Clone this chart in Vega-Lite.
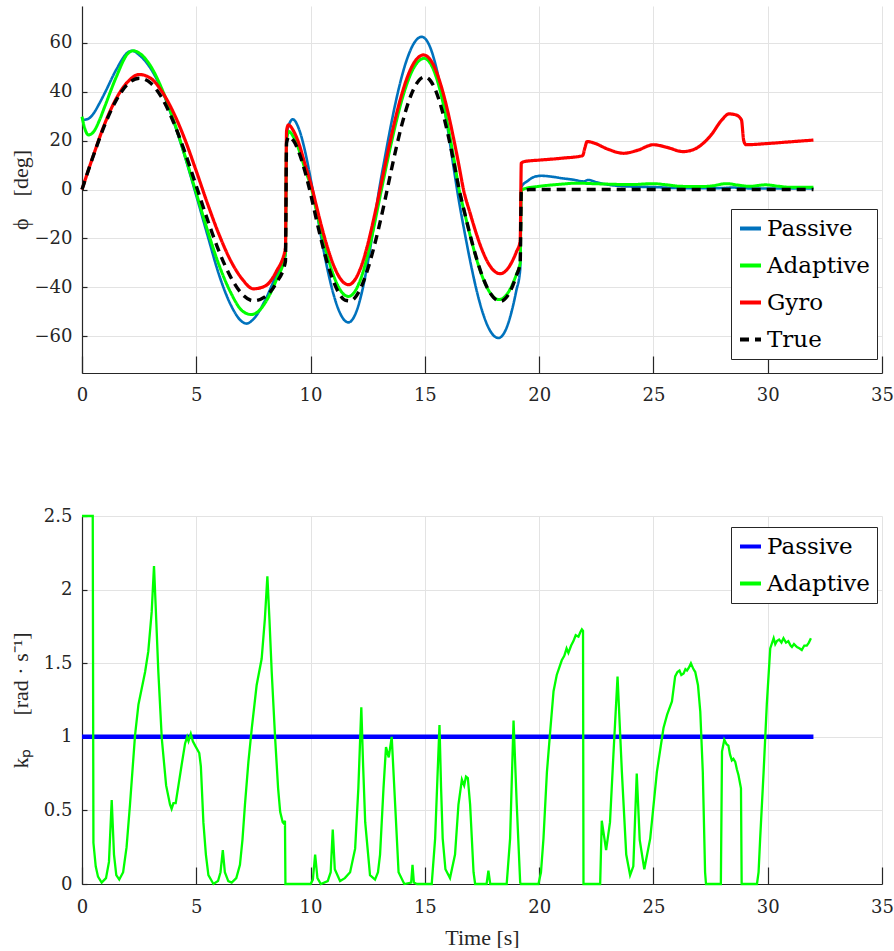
{
  "$schema": "https://vega.github.io/schema/vega-lite/v6.json",
  "padding": {"left": 9, "top": 6, "right": 5, "bottom": 0},
  "background": "white",
  "config": {
    "view": {"stroke": null},
    "axis": {
      "labelFont": "DejaVu Serif", "labelFontSize": 18, "labelColor": "#262626",
      "titleFont": "Liberation Serif", "titleFontSize": 22, "titleFontWeight": "normal", "titleColor": "#262626",
      "domainColor": "#262626", "domainWidth": 1.2, "tickColor": "#262626", "tickWidth": 1.2,
      "gridColor": "#e3e3e3", "gridWidth": 1, "grid": true, "labelOverlap": false, "labelFlush": false
    },
    "legend": {
      "labelFont": "DejaVu Serif", "labelFontSize": 23, "labelColor": "#000000",
      "symbolType": "stroke", "symbolSize": 441, "symbolStrokeWidth": 4,
      "fillColor": "white", "strokeColor": "#262626", "padding": 7, "rowPadding": 12, "labelOffset": 4
    }
  },
  "datasets": {
    "phi": [
      {"t":0,"series":"Passive","phi":28.4},{"t":0.25,"series":"Passive","phi":28.8},{"t":0.5,"series":"Passive","phi":31},{"t":0.75,"series":"Passive","phi":35},{"t":1,"series":"Passive","phi":39.5},{"t":1.5,"series":"Passive","phi":49},{"t":2,"series":"Passive","phi":56},{"t":2.2,"series":"Passive","phi":56.7},{"t":2.5,"series":"Passive","phi":55},{"t":3,"series":"Passive","phi":49.5},{"t":3.5,"series":"Passive","phi":40.5},{"t":4,"series":"Passive","phi":28},{"t":4.5,"series":"Passive","phi":13.5},{"t":5,"series":"Passive","phi":-2.5},{"t":5.5,"series":"Passive","phi":-19},{"t":6,"series":"Passive","phi":-35},{"t":6.5,"series":"Passive","phi":-47},{"t":7,"series":"Passive","phi":-54},{"t":7.2,"series":"Passive","phi":-54.8},{"t":7.5,"series":"Passive","phi":-53},{"t":8,"series":"Passive","phi":-45.5},{"t":8.5,"series":"Passive","phi":-35},{"t":8.9,"series":"Passive","phi":-27},
      {"t":8.95,"series":"Passive","phi":22},{"t":9.1,"series":"Passive","phi":27.5},{"t":9.22,"series":"Passive","phi":28.7},{"t":9.5,"series":"Passive","phi":24.5},{"t":9.75,"series":"Passive","phi":16},{"t":10,"series":"Passive","phi":4.5},{"t":10.25,"series":"Passive","phi":-8.1},{"t":10.5,"series":"Passive","phi":-21.3},{"t":10.75,"series":"Passive","phi":-33.1},{"t":11,"series":"Passive","phi":-42.7},{"t":11.25,"series":"Passive","phi":-49.7},{"t":11.5,"series":"Passive","phi":-53.6},{"t":11.66,"series":"Passive","phi":-54.3},{"t":12,"series":"Passive","phi":-50},{"t":12.25,"series":"Passive","phi":-41.8},{"t":12.5,"series":"Passive","phi":-30.1},{"t":12.75,"series":"Passive","phi":-15.6},{"t":13,"series":"Passive","phi":0},{"t":13.25,"series":"Passive","phi":13},{"t":13.5,"series":"Passive","phi":25.5},{"t":13.75,"series":"Passive","phi":36.8},{"t":14,"series":"Passive","phi":46.5},{"t":14.25,"series":"Passive","phi":54.1},{"t":14.5,"series":"Passive","phi":59.4},{"t":14.75,"series":"Passive","phi":62.1},{"t":14.87,"series":"Passive","phi":62.4},{"t":15,"series":"Passive","phi":61.8},{"t":15.25,"series":"Passive","phi":57.7},{"t":15.5,"series":"Passive","phi":49.8},{"t":15.75,"series":"Passive","phi":38.6},{"t":16,"series":"Passive","phi":25},{"t":16.25,"series":"Passive","phi":9.5},{"t":16.5,"series":"Passive","phi":-5.2},{"t":16.75,"series":"Passive","phi":-18},{"t":17,"series":"Passive","phi":-30},{"t":17.25,"series":"Passive","phi":-40.7},{"t":17.5,"series":"Passive","phi":-49.4},{"t":17.75,"series":"Passive","phi":-55.8},{"t":18,"series":"Passive","phi":-59.6},{"t":18.22,"series":"Passive","phi":-60.7},{"t":18.5,"series":"Passive","phi":-58.1},{"t":18.75,"series":"Passive","phi":-51.5},{"t":19,"series":"Passive","phi":-41.4},{"t":19.17,"series":"Passive","phi":-32.8},
      {"t":19.22,"series":"Passive","phi":1},{"t":19.5,"series":"Passive","phi":3.5},{"t":19.8,"series":"Passive","phi":5.2},{"t":20.1,"series":"Passive","phi":5.6},{"t":20.5,"series":"Passive","phi":5.3},{"t":21,"series":"Passive","phi":4.6},{"t":21.5,"series":"Passive","phi":4},{"t":21.95,"series":"Passive","phi":3.3},{"t":22.15,"series":"Passive","phi":3.9},{"t":22.5,"series":"Passive","phi":3},{"t":23,"series":"Passive","phi":2},{"t":24,"series":"Passive","phi":1.2},{"t":25,"series":"Passive","phi":1},{"t":26,"series":"Passive","phi":0.6},{"t":27,"series":"Passive","phi":0.5},{"t":28,"series":"Passive","phi":0.6},{"t":28.5,"series":"Passive","phi":0.8},{"t":29,"series":"Passive","phi":0.5},{"t":30,"series":"Passive","phi":0.4},{"t":31,"series":"Passive","phi":0.4},{"t":32,"series":"Passive","phi":0.4},

      {"t":0,"series":"Adaptive","phi":29.8},{"t":0.12,"series":"Adaptive","phi":25},{"t":0.28,"series":"Adaptive","phi":22.3},{"t":0.5,"series":"Adaptive","phi":23.5},{"t":0.75,"series":"Adaptive","phi":28},{"t":1,"series":"Adaptive","phi":34},{"t":1.5,"series":"Adaptive","phi":46},{"t":2,"series":"Adaptive","phi":55.5},{"t":2.25,"series":"Adaptive","phi":56.7},{"t":2.5,"series":"Adaptive","phi":55.8},{"t":3,"series":"Adaptive","phi":50.5},{"t":3.5,"series":"Adaptive","phi":41},{"t":4,"series":"Adaptive","phi":28.5},{"t":4.5,"series":"Adaptive","phi":14},{"t":5,"series":"Adaptive","phi":-1.5},{"t":5.5,"series":"Adaptive","phi":-17},{"t":6,"series":"Adaptive","phi":-31},{"t":6.5,"series":"Adaptive","phi":-42},{"t":7,"series":"Adaptive","phi":-49.5},{"t":7.4,"series":"Adaptive","phi":-51.1},{"t":7.75,"series":"Adaptive","phi":-49.5},{"t":8,"series":"Adaptive","phi":-46.5},{"t":8.5,"series":"Adaptive","phi":-37},{"t":8.9,"series":"Adaptive","phi":-26},
      {"t":8.95,"series":"Adaptive","phi":20},{"t":9.05,"series":"Adaptive","phi":23.7},{"t":9.25,"series":"Adaptive","phi":21.5},{"t":9.5,"series":"Adaptive","phi":16},{"t":9.75,"series":"Adaptive","phi":8.5},{"t":10.05,"series":"Adaptive","phi":0},{"t":10.25,"series":"Adaptive","phi":-8.5},{"t":10.5,"series":"Adaptive","phi":-18.5},{"t":10.75,"series":"Adaptive","phi":-27.6},{"t":11,"series":"Adaptive","phi":-35},{"t":11.25,"series":"Adaptive","phi":-40.3},{"t":11.5,"series":"Adaptive","phi":-43.2},{"t":11.66,"series":"Adaptive","phi":-43.7},{"t":12,"series":"Adaptive","phi":-40.7},{"t":12.25,"series":"Adaptive","phi":-35},{"t":12.5,"series":"Adaptive","phi":-26.6},{"t":12.75,"series":"Adaptive","phi":-16.2},{"t":13,"series":"Adaptive","phi":-4.7},{"t":13.25,"series":"Adaptive","phi":6.7},{"t":13.5,"series":"Adaptive","phi":17.7},{"t":13.75,"series":"Adaptive","phi":27.8},{"t":14,"series":"Adaptive","phi":36.8},{"t":14.25,"series":"Adaptive","phi":44.1},{"t":14.5,"series":"Adaptive","phi":49.5},{"t":14.75,"series":"Adaptive","phi":52.7},{"t":14.97,"series":"Adaptive","phi":53.6},{"t":15.25,"series":"Adaptive","phi":51.4},{"t":15.5,"series":"Adaptive","phi":45.9},{"t":15.75,"series":"Adaptive","phi":37.3},{"t":16,"series":"Adaptive","phi":26.3},{"t":16.25,"series":"Adaptive","phi":13.6},{"t":16.5,"series":"Adaptive","phi":0},{"t":16.75,"series":"Adaptive","phi":-10},{"t":17,"series":"Adaptive","phi":-19.5},{"t":17.25,"series":"Adaptive","phi":-28.1},{"t":17.5,"series":"Adaptive","phi":-35.2},{"t":17.75,"series":"Adaptive","phi":-40.6},{"t":18,"series":"Adaptive","phi":-43.9},{"t":18.25,"series":"Adaptive","phi":-45},{"t":18.5,"series":"Adaptive","phi":-43.8},{"t":18.75,"series":"Adaptive","phi":-40.4},{"t":19,"series":"Adaptive","phi":-34.8},{"t":19.17,"series":"Adaptive","phi":-30},
      {"t":19.22,"series":"Adaptive","phi":-0.5},{"t":19.35,"series":"Adaptive","phi":0.3},{"t":20,"series":"Adaptive","phi":1.3},{"t":21,"series":"Adaptive","phi":2.2},{"t":21.6,"series":"Adaptive","phi":2.6},{"t":22.3,"series":"Adaptive","phi":2.4},{"t":23,"series":"Adaptive","phi":2.2},{"t":24,"series":"Adaptive","phi":2},{"t":25,"series":"Adaptive","phi":2.4},{"t":25.5,"series":"Adaptive","phi":2},{"t":26.2,"series":"Adaptive","phi":1.3},{"t":27,"series":"Adaptive","phi":1.2},{"t":27.5,"series":"Adaptive","phi":1.4},{"t":28.2,"series":"Adaptive","phi":2.4},{"t":28.7,"series":"Adaptive","phi":1.8},{"t":29.2,"series":"Adaptive","phi":1.3},{"t":29.9,"series":"Adaptive","phi":1.9},{"t":30.5,"series":"Adaptive","phi":1.3},{"t":31,"series":"Adaptive","phi":0.9},{"t":32,"series":"Adaptive","phi":0.9},

      {"t":0,"series":"Gyro","phi":0},{"t":0.5,"series":"Gyro","phi":14},{"t":1,"series":"Gyro","phi":27},{"t":1.5,"series":"Gyro","phi":37.2},{"t":2,"series":"Gyro","phi":44},{"t":2.5,"series":"Gyro","phi":47},{"t":3,"series":"Gyro","phi":45.5},{"t":3.5,"series":"Gyro","phi":40},{"t":4,"series":"Gyro","phi":31.5},{"t":4.5,"series":"Gyro","phi":20.5},{"t":5,"series":"Gyro","phi":7.5},{"t":5.5,"series":"Gyro","phi":-6},{"t":6,"series":"Gyro","phi":-18.5},{"t":6.5,"series":"Gyro","phi":-29},{"t":7,"series":"Gyro","phi":-36.5},{"t":7.5,"series":"Gyro","phi":-40.6},{"t":8,"series":"Gyro","phi":-39.5},{"t":8.5,"series":"Gyro","phi":-33.5},{"t":8.9,"series":"Gyro","phi":-24},
      {"t":8.95,"series":"Gyro","phi":24},{"t":9.03,"series":"Gyro","phi":26.4},{"t":9.25,"series":"Gyro","phi":24},{"t":9.5,"series":"Gyro","phi":18.5},{"t":9.75,"series":"Gyro","phi":10.5},{"t":10.08,"series":"Gyro","phi":0},{"t":10.25,"series":"Gyro","phi":-6.5},{"t":10.5,"series":"Gyro","phi":-15.8},{"t":10.75,"series":"Gyro","phi":-24},{"t":11,"series":"Gyro","phi":-30.8},{"t":11.25,"series":"Gyro","phi":-35.7},{"t":11.5,"series":"Gyro","phi":-38.4},{"t":11.66,"series":"Gyro","phi":-38.9},{"t":12,"series":"Gyro","phi":-36},{"t":12.25,"series":"Gyro","phi":-30.5},{"t":12.5,"series":"Gyro","phi":-22.5},{"t":12.75,"series":"Gyro","phi":-12.6},{"t":13,"series":"Gyro","phi":-1.8},{"t":13.25,"series":"Gyro","phi":9.5},{"t":13.5,"series":"Gyro","phi":20.4},{"t":13.75,"series":"Gyro","phi":30.5},{"t":14,"series":"Gyro","phi":39.2},{"t":14.25,"series":"Gyro","phi":46.3},{"t":14.5,"series":"Gyro","phi":51.4},{"t":14.75,"series":"Gyro","phi":54.3},{"t":14.94,"series":"Gyro","phi":55},{"t":15.25,"series":"Gyro","phi":52.9},{"t":15.5,"series":"Gyro","phi":48.2},{"t":15.75,"series":"Gyro","phi":41.1},{"t":16,"series":"Gyro","phi":32},{"t":16.25,"series":"Gyro","phi":21.2},{"t":16.5,"series":"Gyro","phi":9.4},{"t":16.69,"series":"Gyro","phi":0},{"t":17,"series":"Gyro","phi":-10.3},{"t":17.25,"series":"Gyro","phi":-18},{"t":17.5,"series":"Gyro","phi":-24.6},{"t":17.75,"series":"Gyro","phi":-29.7},{"t":18,"series":"Gyro","phi":-33},{"t":18.29,"series":"Gyro","phi":-34.4},{"t":18.5,"series":"Gyro","phi":-33.6},{"t":18.75,"series":"Gyro","phi":-30.6},{"t":19,"series":"Gyro","phi":-25.6},{"t":19.17,"series":"Gyro","phi":-21.2},
      {"t":19.22,"series":"Gyro","phi":10.8},{"t":19.4,"series":"Gyro","phi":11.5},{"t":20,"series":"Gyro","phi":12},{"t":21,"series":"Gyro","phi":12.8},{"t":21.9,"series":"Gyro","phi":13.8},{"t":22,"series":"Gyro","phi":17},{"t":22.1,"series":"Gyro","phi":19.6},{"t":22.4,"series":"Gyro","phi":19},{"t":23,"series":"Gyro","phi":16.5},{"t":23.7,"series":"Gyro","phi":14.8},{"t":24.3,"series":"Gyro","phi":16},{"t":25,"series":"Gyro","phi":18.3},{"t":25.6,"series":"Gyro","phi":17.2},{"t":26.3,"series":"Gyro","phi":15.5},{"t":26.8,"series":"Gyro","phi":16.5},{"t":27.5,"series":"Gyro","phi":22},{"t":28,"series":"Gyro","phi":28.5},{"t":28.3,"series":"Gyro","phi":30.9},{"t":28.6,"series":"Gyro","phi":30.5},{"t":28.85,"series":"Gyro","phi":28.5},{"t":28.95,"series":"Gyro","phi":20},{"t":29.05,"series":"Gyro","phi":18.3},{"t":30,"series":"Gyro","phi":18.8},{"t":31,"series":"Gyro","phi":19.5},{"t":32,"series":"Gyro","phi":20.2},

      {"t":0,"series":"True","phi":0},{"t":0.5,"series":"True","phi":13.9},{"t":1,"series":"True","phi":26.5},{"t":1.5,"series":"True","phi":36.5},{"t":2,"series":"True","phi":43.1},{"t":2.5,"series":"True","phi":45.5},{"t":3,"series":"True","phi":43.5},{"t":3.5,"series":"True","phi":37.4},{"t":4,"series":"True","phi":27.6},{"t":4.5,"series":"True","phi":15.3},{"t":5,"series":"True","phi":1.4},{"t":5.5,"series":"True","phi":-12.6},{"t":6,"series":"True","phi":-25.4},{"t":6.5,"series":"True","phi":-35.7},{"t":7,"series":"True","phi":-42.7},{"t":7.5,"series":"True","phi":-45.5},{"t":8,"series":"True","phi":-43.9},{"t":8.5,"series":"True","phi":-38.2},{"t":8.9,"series":"True","phi":-29.5},
      {"t":8.95,"series":"True","phi":19},{"t":9.05,"series":"True","phi":21.6},{"t":9.25,"series":"True","phi":20},{"t":9.5,"series":"True","phi":15},{"t":9.75,"series":"True","phi":7.5},{"t":10,"series":"True","phi":-1.7},{"t":10.25,"series":"True","phi":-12.1},{"t":10.5,"series":"True","phi":-21.9},{"t":10.75,"series":"True","phi":-30.5},{"t":11,"series":"True","phi":-37.5},{"t":11.25,"series":"True","phi":-42.5},{"t":11.5,"series":"True","phi":-45.2},{"t":11.75,"series":"True","phi":-45.5},{"t":12,"series":"True","phi":-43.5},{"t":12.25,"series":"True","phi":-39.1},{"t":12.5,"series":"True","phi":-32.6},{"t":12.75,"series":"True","phi":-24.4},{"t":13,"series":"True","phi":-15},{"t":13.25,"series":"True","phi":-4.6},{"t":13.5,"series":"True","phi":6.5},{"t":13.75,"series":"True","phi":17.1},{"t":14,"series":"True","phi":26.7},{"t":14.25,"series":"True","phi":34.8},{"t":14.5,"series":"True","phi":40.9},{"t":14.75,"series":"True","phi":44.7},{"t":15,"series":"True","phi":46},{"t":15.25,"series":"True","phi":44.4},{"t":15.5,"series":"True","phi":39.8},{"t":15.75,"series":"True","phi":32.5},{"t":16,"series":"True","phi":23},{"t":16.25,"series":"True","phi":11.9},{"t":16.5,"series":"True","phi":0},{"t":16.75,"series":"True","phi":-9.9},{"t":17,"series":"True","phi":-19.3},{"t":17.25,"series":"True","phi":-27.8},{"t":17.5,"series":"True","phi":-35},{"t":17.75,"series":"True","phi":-40.5},{"t":18,"series":"True","phi":-44.1},{"t":18.3,"series":"True","phi":-45.7},{"t":18.5,"series":"True","phi":-44.8},{"t":18.75,"series":"True","phi":-41.3},{"t":19,"series":"True","phi":-35.3},{"t":19.17,"series":"True","phi":-30},
      {"t":19.22,"series":"True","phi":-1},{"t":19.4,"series":"True","phi":-0.3},{"t":19.6,"series":"True","phi":0},{"t":32,"series":"True","phi":0}
    ],
    "kp": [
      {"t":0,"gain":"Passive","kp":1},{"t":32,"gain":"Passive","kp":1},
      {"t":0,"gain":"Adaptive","kp":2.5},{"t":0.47,"gain":"Adaptive","kp":2.5},{"t":0.5,"gain":"Adaptive","kp":0.28},{"t":0.6,"gain":"Adaptive","kp":0.12},{"t":0.7,"gain":"Adaptive","kp":0.05},{"t":0.86,"gain":"Adaptive","kp":0.01},{"t":1.05,"gain":"Adaptive","kp":0.04},{"t":1.18,"gain":"Adaptive","kp":0.15},{"t":1.3,"gain":"Adaptive","kp":0.57},{"t":1.4,"gain":"Adaptive","kp":0.2},{"t":1.5,"gain":"Adaptive","kp":0.06},{"t":1.63,"gain":"Adaptive","kp":0.03},{"t":1.8,"gain":"Adaptive","kp":0.08},{"t":1.95,"gain":"Adaptive","kp":0.25},{"t":2.1,"gain":"Adaptive","kp":0.54},{"t":2.32,"gain":"Adaptive","kp":1.01},{"t":2.47,"gain":"Adaptive","kp":1.22},{"t":2.76,"gain":"Adaptive","kp":1.44},{"t":2.9,"gain":"Adaptive","kp":1.58},{"t":3.05,"gain":"Adaptive","kp":1.85},{"t":3.15,"gain":"Adaptive","kp":2.16},{"t":3.22,"gain":"Adaptive","kp":1.9},{"t":3.34,"gain":"Adaptive","kp":1.44},{"t":3.49,"gain":"Adaptive","kp":0.99},{"t":3.68,"gain":"Adaptive","kp":0.67},{"t":3.85,"gain":"Adaptive","kp":0.54},{"t":3.92,"gain":"Adaptive","kp":0.51},{"t":4,"gain":"Adaptive","kp":0.55},{"t":4.1,"gain":"Adaptive","kp":0.55},{"t":4.22,"gain":"Adaptive","kp":0.67},{"t":4.36,"gain":"Adaptive","kp":0.81},{"t":4.51,"gain":"Adaptive","kp":0.955},{"t":4.6,"gain":"Adaptive","kp":1},{"t":4.66,"gain":"Adaptive","kp":0.97},{"t":4.76,"gain":"Adaptive","kp":1.02},{"t":4.85,"gain":"Adaptive","kp":0.97},{"t":4.95,"gain":"Adaptive","kp":0.94},{"t":5.13,"gain":"Adaptive","kp":0.89},{"t":5.2,"gain":"Adaptive","kp":0.8},{"t":5.31,"gain":"Adaptive","kp":0.42},{"t":5.42,"gain":"Adaptive","kp":0.2},{"t":5.53,"gain":"Adaptive","kp":0.06},{"t":5.75,"gain":"Adaptive","kp":0},{"t":5.95,"gain":"Adaptive","kp":0.02},{"t":6.06,"gain":"Adaptive","kp":0.08},{"t":6.16,"gain":"Adaptive","kp":0.23},{"t":6.25,"gain":"Adaptive","kp":0.08},{"t":6.4,"gain":"Adaptive","kp":0.02},{"t":6.55,"gain":"Adaptive","kp":0.01},{"t":6.75,"gain":"Adaptive","kp":0.04},{"t":6.91,"gain":"Adaptive","kp":0.13},{"t":7.02,"gain":"Adaptive","kp":0.3},{"t":7.13,"gain":"Adaptive","kp":0.54},{"t":7.28,"gain":"Adaptive","kp":0.83},{"t":7.43,"gain":"Adaptive","kp":1.06},{"t":7.64,"gain":"Adaptive","kp":1.35},{"t":7.86,"gain":"Adaptive","kp":1.53},{"t":8,"gain":"Adaptive","kp":1.8},{"t":8.11,"gain":"Adaptive","kp":2.09},{"t":8.2,"gain":"Adaptive","kp":1.8},{"t":8.3,"gain":"Adaptive","kp":1.44},{"t":8.45,"gain":"Adaptive","kp":0.99},{"t":8.58,"gain":"Adaptive","kp":0.65},{"t":8.67,"gain":"Adaptive","kp":0.49},{"t":8.78,"gain":"Adaptive","kp":0.42},{"t":8.84,"gain":"Adaptive","kp":0.41},{"t":8.88,"gain":"Adaptive","kp":0.43},{"t":8.9,"gain":"Adaptive","kp":0},{"t":10,"gain":"Adaptive","kp":0},{"t":10.1,"gain":"Adaptive","kp":0.03},{"t":10.2,"gain":"Adaptive","kp":0.2},{"t":10.3,"gain":"Adaptive","kp":0.04},{"t":10.45,"gain":"Adaptive","kp":0},{"t":10.75,"gain":"Adaptive","kp":0.02},{"t":10.88,"gain":"Adaptive","kp":0.08},{"t":10.97,"gain":"Adaptive","kp":0.37},{"t":11.06,"gain":"Adaptive","kp":0.1},{"t":11.29,"gain":"Adaptive","kp":0.02},{"t":11.5,"gain":"Adaptive","kp":0.04},{"t":11.73,"gain":"Adaptive","kp":0.08},{"t":11.95,"gain":"Adaptive","kp":0.24},{"t":12.09,"gain":"Adaptive","kp":0.65},{"t":12.22,"gain":"Adaptive","kp":1.2},{"t":12.3,"gain":"Adaptive","kp":0.8},{"t":12.39,"gain":"Adaptive","kp":0.42},{"t":12.6,"gain":"Adaptive","kp":0.06},{"t":12.82,"gain":"Adaptive","kp":0.03},{"t":12.95,"gain":"Adaptive","kp":0.08},{"t":13.04,"gain":"Adaptive","kp":0.2},{"t":13.19,"gain":"Adaptive","kp":0.65},{"t":13.3,"gain":"Adaptive","kp":0.93},{"t":13.42,"gain":"Adaptive","kp":0.86},{"t":13.55,"gain":"Adaptive","kp":1},{"t":13.7,"gain":"Adaptive","kp":0.54},{"t":13.85,"gain":"Adaptive","kp":0.08},{"t":14.1,"gain":"Adaptive","kp":0},{"t":14.4,"gain":"Adaptive","kp":0.01},{"t":14.46,"gain":"Adaptive","kp":0.13},{"t":14.52,"gain":"Adaptive","kp":0.01},{"t":14.65,"gain":"Adaptive","kp":0},{"t":15.3,"gain":"Adaptive","kp":0},{"t":15.45,"gain":"Adaptive","kp":0.31},{"t":15.55,"gain":"Adaptive","kp":0.72},{"t":15.64,"gain":"Adaptive","kp":1.08},{"t":15.71,"gain":"Adaptive","kp":0.65},{"t":15.78,"gain":"Adaptive","kp":0.31},{"t":15.9,"gain":"Adaptive","kp":0.1},{"t":16.1,"gain":"Adaptive","kp":0.04},{"t":16.32,"gain":"Adaptive","kp":0.2},{"t":16.47,"gain":"Adaptive","kp":0.54},{"t":16.62,"gain":"Adaptive","kp":0.71},{"t":16.72,"gain":"Adaptive","kp":0.67},{"t":16.8,"gain":"Adaptive","kp":0.73},{"t":16.88,"gain":"Adaptive","kp":0.72},{"t":16.98,"gain":"Adaptive","kp":0.54},{"t":17.13,"gain":"Adaptive","kp":0.08},{"t":17.2,"gain":"Adaptive","kp":0},{"t":17.7,"gain":"Adaptive","kp":0},{"t":17.78,"gain":"Adaptive","kp":0.09},{"t":17.86,"gain":"Adaptive","kp":0},{"t":18.58,"gain":"Adaptive","kp":0},{"t":18.73,"gain":"Adaptive","kp":0.31},{"t":18.88,"gain":"Adaptive","kp":1.11},{"t":19.02,"gain":"Adaptive","kp":0.54},{"t":19.17,"gain":"Adaptive","kp":0.01},{"t":19.2,"gain":"Adaptive","kp":0},{"t":19.97,"gain":"Adaptive","kp":0},{"t":20.08,"gain":"Adaptive","kp":0.08},{"t":20.19,"gain":"Adaptive","kp":0.31},{"t":20.34,"gain":"Adaptive","kp":0.76},{"t":20.48,"gain":"Adaptive","kp":1.03},{"t":20.63,"gain":"Adaptive","kp":1.31},{"t":20.77,"gain":"Adaptive","kp":1.42},{"t":20.99,"gain":"Adaptive","kp":1.52},{"t":21.1,"gain":"Adaptive","kp":1.55},{"t":21.2,"gain":"Adaptive","kp":1.6},{"t":21.28,"gain":"Adaptive","kp":1.57},{"t":21.4,"gain":"Adaptive","kp":1.62},{"t":21.5,"gain":"Adaptive","kp":1.65},{"t":21.6,"gain":"Adaptive","kp":1.69},{"t":21.72,"gain":"Adaptive","kp":1.68},{"t":21.8,"gain":"Adaptive","kp":1.71},{"t":21.87,"gain":"Adaptive","kp":1.73},{"t":21.92,"gain":"Adaptive","kp":1.72},{"t":21.94,"gain":"Adaptive","kp":0},{"t":22.67,"gain":"Adaptive","kp":0},{"t":22.74,"gain":"Adaptive","kp":0.43},{"t":22.93,"gain":"Adaptive","kp":0.23},{"t":23.1,"gain":"Adaptive","kp":0.42},{"t":23.25,"gain":"Adaptive","kp":0.88},{"t":23.43,"gain":"Adaptive","kp":1.41},{"t":23.62,"gain":"Adaptive","kp":0.76},{"t":23.81,"gain":"Adaptive","kp":0.2},{"t":23.98,"gain":"Adaptive","kp":0.06},{"t":24.12,"gain":"Adaptive","kp":0.12},{"t":24.27,"gain":"Adaptive","kp":0.75},{"t":24.4,"gain":"Adaptive","kp":0.3},{"t":24.6,"gain":"Adaptive","kp":0.1},{"t":24.86,"gain":"Adaptive","kp":0.31},{"t":25.15,"gain":"Adaptive","kp":0.76},{"t":25.44,"gain":"Adaptive","kp":1.06},{"t":25.6,"gain":"Adaptive","kp":1.15},{"t":25.81,"gain":"Adaptive","kp":1.24},{"t":25.95,"gain":"Adaptive","kp":1.41},{"t":26.05,"gain":"Adaptive","kp":1.44},{"t":26.14,"gain":"Adaptive","kp":1.45},{"t":26.22,"gain":"Adaptive","kp":1.42},{"t":26.32,"gain":"Adaptive","kp":1.43},{"t":26.4,"gain":"Adaptive","kp":1.46},{"t":26.47,"gain":"Adaptive","kp":1.45},{"t":26.55,"gain":"Adaptive","kp":1.47},{"t":26.64,"gain":"Adaptive","kp":1.5},{"t":26.75,"gain":"Adaptive","kp":1.46},{"t":26.83,"gain":"Adaptive","kp":1.44},{"t":26.95,"gain":"Adaptive","kp":1.35},{"t":27.05,"gain":"Adaptive","kp":1.17},{"t":27.16,"gain":"Adaptive","kp":0.76},{"t":27.26,"gain":"Adaptive","kp":0.08},{"t":27.3,"gain":"Adaptive","kp":0},{"t":27.95,"gain":"Adaptive","kp":0},{"t":28,"gain":"Adaptive","kp":0.9},{"t":28.1,"gain":"Adaptive","kp":0.98},{"t":28.2,"gain":"Adaptive","kp":0.95},{"t":28.28,"gain":"Adaptive","kp":0.94},{"t":28.35,"gain":"Adaptive","kp":0.88},{"t":28.43,"gain":"Adaptive","kp":0.84},{"t":28.5,"gain":"Adaptive","kp":0.85},{"t":28.58,"gain":"Adaptive","kp":0.83},{"t":28.65,"gain":"Adaptive","kp":0.78},{"t":28.72,"gain":"Adaptive","kp":0.74},{"t":28.83,"gain":"Adaptive","kp":0.65},{"t":28.86,"gain":"Adaptive","kp":0},{"t":29.53,"gain":"Adaptive","kp":0},{"t":29.6,"gain":"Adaptive","kp":0.08},{"t":29.67,"gain":"Adaptive","kp":0.31},{"t":29.82,"gain":"Adaptive","kp":0.76},{"t":29.96,"gain":"Adaptive","kp":1.22},{"t":30.11,"gain":"Adaptive","kp":1.6},{"t":30.26,"gain":"Adaptive","kp":1.67},{"t":30.33,"gain":"Adaptive","kp":1.63},{"t":30.4,"gain":"Adaptive","kp":1.65},{"t":30.5,"gain":"Adaptive","kp":1.66},{"t":30.6,"gain":"Adaptive","kp":1.64},{"t":30.69,"gain":"Adaptive","kp":1.67},{"t":30.8,"gain":"Adaptive","kp":1.64},{"t":30.9,"gain":"Adaptive","kp":1.65},{"t":31,"gain":"Adaptive","kp":1.62},{"t":31.06,"gain":"Adaptive","kp":1.61},{"t":31.15,"gain":"Adaptive","kp":1.63},{"t":31.28,"gain":"Adaptive","kp":1.61},{"t":31.4,"gain":"Adaptive","kp":1.6},{"t":31.49,"gain":"Adaptive","kp":1.59},{"t":31.6,"gain":"Adaptive","kp":1.62},{"t":31.71,"gain":"Adaptive","kp":1.62},{"t":31.8,"gain":"Adaptive","kp":1.64},{"t":31.89,"gain":"Adaptive","kp":1.67}
    ]
  },
  "vconcat": [
    {
      "width": 800, "height": 367,
      "data": {"name": "phi"},
      "encoding": {
        "x": {"field": "t", "type": "quantitative", "scale": {"domain": [0, 35], "nice": false},
              "axis": {"title": null, "values": [0,5,10,15,20,25,30,35], "tickSize": -17, "labelPadding": 30, "labelFont": "DejaVu Serif", "labelFontSize": 18}},
        "y": {"field": "phi", "type": "quantitative", "scale": {"domain": [-75, 75], "nice": false, "zero": false},
              "axis": {"title": "ϕ\u2003[deg]", "values": [-60,-40,-20,0,20,40,60], "tickSize": -5, "labelPadding": 15, "titleX": -55, "titleBaseline": "alphabetic", "labelFont": "DejaVu Serif", "labelFontSize": 18, "titleFont": "Liberation Serif"}},
        "color": {"field": "series", "type": "nominal",
                  "scale": {"domain": ["Passive","Adaptive","Gyro","True"], "range": ["#0072BD","#00FF00","#FF0000","#000000"]},
                  "legend": {"title": null, "orient": "none", "legendX": 649, "legendY": 203, "labelFont": "DejaVu Serif", "labelFontSize": 23}},
        "strokeDash": {"field": "series", "type": "nominal",
                  "scale": {"domain": ["Passive","Adaptive","Gyro","True"], "range": [[1,0],[1,0],[1,0],[9,6]]},
                  "legend": {"title": null, "orient": "none", "legendX": 649, "legendY": 203, "labelFont": "DejaVu Serif", "labelFontSize": 23}}
      },
      "layer": [
        {"transform": [{"filter": "datum.series === 'Passive'"}], "mark": {"type": "line", "strokeWidth": 2.6, "interpolate": "monotone"}},
        {"transform": [{"filter": "datum.series === 'Adaptive'"}], "mark": {"type": "line", "strokeWidth": 3, "interpolate": "monotone"}},
        {"transform": [{"filter": "datum.series === 'Gyro'"}], "mark": {"type": "line", "strokeWidth": 3.2, "interpolate": "monotone"}},
        {"transform": [{"filter": "datum.series === 'True'"}], "mark": {"type": "line", "strokeWidth": 3.4, "interpolate": "monotone", "strokeCap": "butt"}}
      ]
    },
    {
      "width": 800, "height": 368,
      "data": {"name": "kp"},
      "encoding": {
        "x": {"field": "t", "type": "quantitative", "scale": {"domain": [0, 35], "nice": false},
              "axis": {"title": "Time [s]", "values": [0,5,10,15,20,25,30,35], "tickSize": -17, "labelPadding": 31, "titleY": 60, "titleBaseline": "alphabetic", "labelFont": "DejaVu Serif", "labelFontSize": 18, "titleFont": "Liberation Serif"}},
        "y": {"field": "kp", "type": "quantitative", "scale": {"domain": [0, 2.5], "nice": false},
              "axis": {"title": "kₚ\u2003\u2002[rad · s⁻¹]", "values": [0,0.5,1,1.5,2,2.5], "format": "~g", "tickSize": -5, "labelPadding": 15, "titleX": -55, "titleBaseline": "alphabetic", "labelFont": "DejaVu Serif", "labelFontSize": 18, "titleFont": "Liberation Serif"}},
        "color": {"field": "gain", "type": "nominal",
                  "scale": {"domain": ["Passive","Adaptive"], "range": ["#0000FF","#00FF00"]},
                  "legend": {"title": null, "orient": "none", "legendX": 649, "legendY": 11, "labelFont": "DejaVu Serif", "labelFontSize": 23}}
      },
      "layer": [
        {"transform": [{"filter": "datum.gain === 'Passive'"}], "mark": {"type": "line", "strokeWidth": 4.6}},
        {"transform": [{"filter": "datum.gain === 'Adaptive'"}], "mark": {"type": "line", "strokeWidth": 2.3}}
      ]
    }
  ],
  "spacing": 143,
  "bounds": "flush",
  "resolve": {"scale": {"color": "independent", "strokeDash": "independent"}, "legend": {"color": "independent", "strokeDash": "independent"}}
}
